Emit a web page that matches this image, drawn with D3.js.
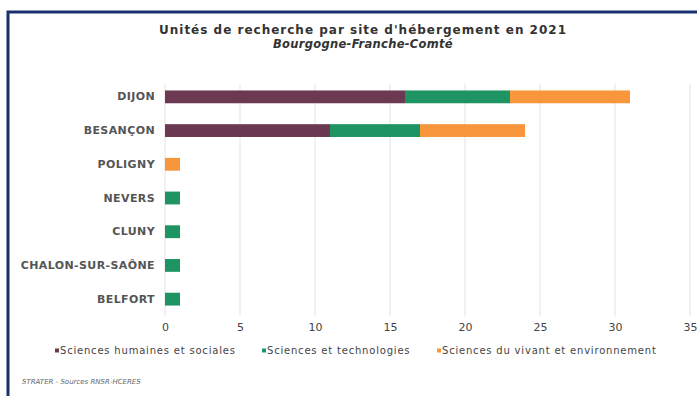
<!DOCTYPE html>
<html>
<head>
<meta charset="utf-8">
<script src="https://cdn.jsdelivr.net/npm/d3@7"></script>
<style>
  body { margin: 0; background: #fff; }
  svg { display: block; font-family: "DejaVu Sans", Arial, sans-serif; }
</style>
</head>
<body>
<svg id="chart" width="697" height="396"></svg>
<script>
// Unités de recherche par site - stacked horizontal bars

const sites = ['DIJON', 'BESANÇON', 'POLIGNY', 'NEVERS', 'CLUNY', 'CHALON-SUR-SAÔNE', 'BELFORT'];
const shs = [16, 11, 0, 0, 0, 0, 0];
const st = [7, 6, 0, 1, 1, 1, 1];
const sve = [8, 7, 1, 0, 0, 0, 0];
const seriesNames = ['Sciences humaines et sociales', 'Sciences et technologies', 'Sciences du vivant et environnement'];
const colors = ['#6b3a52', '#1f9463', '#f7963a'];
const ticks = [0, 5, 10, 15, 20, 25, 30, 35];

const svg = d3.select('#chart');

// frame (left + top edges only)
svg.append('path')
  .attr('d', 'M8,396V12H697')
  .attr('fill', 'none')
  .attr('stroke', '#1a2f6e')
  .attr('stroke-width', 3);

svg.append('text')
  .attr('x', 363).attr('y', 34)
  .attr('text-anchor', 'middle')
  .attr('font-size', 12).attr('font-weight', 'bold').attr('fill', '#333')
  .attr('letter-spacing', 1)
  .text("Unités de recherche par site d'hébergement en 2021");
svg.append('text')
  .attr('x', 363).attr('y', 48)
  .attr('text-anchor', 'middle')
  .attr('font-size', 11.5).attr('font-weight', 'bold').attr('font-style', 'italic').attr('fill', '#333')
  .attr('letter-spacing', 0.3)
  .text('Bourgogne-Franche-Comté');

const x = d3.scaleLinear().domain([0, 35]).range([165, 690]);
const y = d3.scaleBand().domain(sites).range([80, 316]).paddingInner(0.62).paddingOuter(0.31);

const rows = sites.map((s, i) => ({ site: s, shs: shs[i], st: st[i], sve: sve[i] }));
const stack = d3.stack().keys(['shs', 'st', 'sve'])(rows);

// grid
svg.append('g').selectAll('line')
  .data(ticks).join('line')
  .attr('x1', d => x(d)).attr('x2', d => x(d))
  .attr('y1', 84).attr('y2', 316)
  .attr('stroke', '#e3e3e3').attr('stroke-width', 1);

// bars
svg.append('g').selectAll('g')
  .data(stack).join('g')
  .attr('fill', (d, i) => colors[i])
  .selectAll('rect')
  .data(d => d).join('rect')
  .attr('x', d => x(d[0]))
  .attr('y', d => y(d.data.site))
  .attr('width', d => x(d[1]) - x(d[0]))
  .attr('height', y.bandwidth());

// y labels
const yAxis = svg.append('g')
  .attr('transform', 'translate(155,0)')
  .call(d3.axisLeft(y).tickSize(0).tickPadding(0));
yAxis.select('.domain').remove();
yAxis.selectAll('text')
  .attr('font-size', 11).attr('font-weight', 'bold').attr('fill', '#555')
  .attr('letter-spacing', 0.4)
  .attr('font-family', '"DejaVu Sans", Arial, sans-serif');

// x labels
const xAxis = svg.append('g')
  .attr('transform', 'translate(0,318)')
  .call(d3.axisBottom(x).tickValues(ticks).tickSize(0).tickPadding(5));
xAxis.select('.domain').remove();
xAxis.selectAll('text')
  .attr('font-size', 11).attr('fill', '#444')
  .attr('font-family', '"DejaVu Sans", Arial, sans-serif');

// legend
const legendX = [55, 262, 437];
const lg = svg.append('g').selectAll('g')
  .data(seriesNames).join('g')
  .attr('transform', (d, i) => `translate(${legendX[i]},354)`);
lg.append('rect')
  .attr('x', 0).attr('y', -5.5).attr('width', 4).attr('height', 4)
  .attr('fill', (d, i) => colors[i]);
lg.append('text')
  .attr('x', 5).attr('y', 0)
  .attr('font-size', 10).attr('fill', '#444')
  .attr('letter-spacing', 0.8)
  .text(d => d);

svg.append('text')
  .attr('x', 22).attr('y', 384)
  .attr('font-size', 7).attr('font-style', 'italic').attr('fill', '#666')
  .text('STRATER - Sources RNSR-HCERES');
</script>
</body>
</html>
